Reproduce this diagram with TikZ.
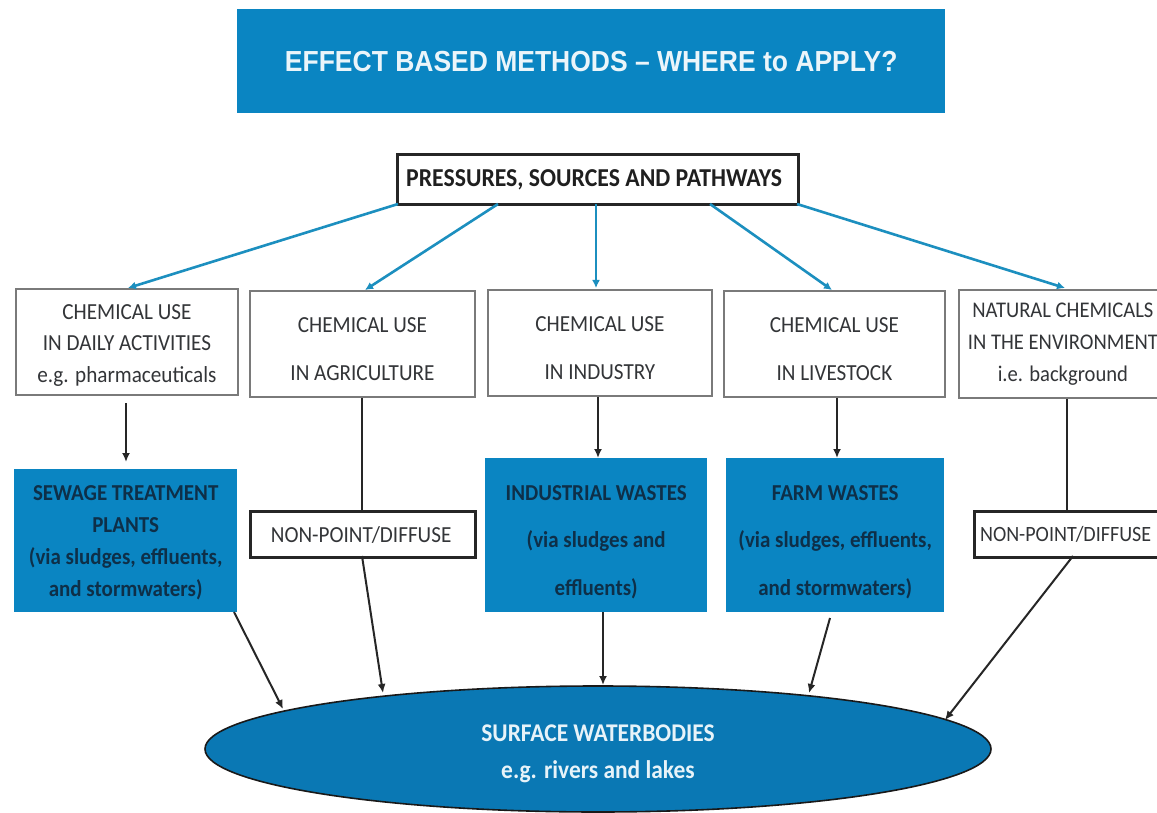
\documentclass[tikz,border=0pt]{standalone}
\usepackage{fontspec}
\setmainfont{Carlito}[FakeStretch=0.92]
\newfontfamily\titlefont{Liberation Sans}[FakeStretch=0.913]
\usetikzlibrary{shapes.geometric,arrows.meta}
\definecolor{bl}{HTML}{0A85C2}
\definecolor{el}{HTML}{0A78B4}
\definecolor{dk}{HTML}{0E2F48}
\definecolor{ln}{HTML}{1C8FBF}
\definecolor{gr}{HTML}{333538}
\newcommand{\tx}[3]{\fontsize{#1}{#2}\selectfont\raisebox{-#3pt}[0pt][0pt]}
\newcommand{\lns}[1]{\begin{tabular}{@{}c@{}}#1\end{tabular}}
\begin{document}
\begin{tikzpicture}[x=1pt,y=-1pt,
  box/.style={draw=black!52,line width=1.8pt,fill=white,align=center,inner sep=0pt,text=gr},
  thick box/.style={draw=black!85,line width=3.2pt,fill=white,align=center,inner sep=0pt,text=gr},
  blue box/.style={draw=none,fill=bl,align=center,inner sep=0pt,text=dk},
  bar/.style={-{Latex[length=8pt,width=8pt]},ln,line width=2.6pt},
  dn/.style={-{Latex[length=9pt,width=8pt]},black!85,line width=2pt}]
\useasboundingbox (0,0) rectangle (1157,813);
\fill[white] (0,0) rectangle (1157,813);
\newcommand{\bx}[7][box]{\node[#1,minimum width=#4-#2,minimum height=#5-#3,anchor=north west] (#6) at (#2,#3) {#7};}
\bx[blue box]{237}{9}{945}{113}{title}{\titlefont\bfseries\fontsize{29}{32}\selectfont\textcolor{white!92!bl}{EFFECT BASED METHODS – WHERE to APPLY?}}
\bx[thick box,text=black!88]{396}{153}{797}{203}{press}{\fontsize{25.8}{28}\selectfont\bfseries\hspace*{-8pt}PRESSURES, SOURCES AND PATHWAYS}
\bx{15}{288}{237}{394}{c1}{\tx{23}{31.5}{9}{\lns{CHEMICAL USE\\IN DAILY ACTIVITIES\\e.g. pharmaceuticals}}}
\bx{249}{290}{474}{396}{c2}{\tx{23}{48}{9}{\lns{CHEMICAL USE\\IN AGRICULTURE}}}
\bx{487}{289}{711}{395}{c3}{\tx{23}{48}{9}{\lns{CHEMICAL USE\\IN INDUSTRY}}}
\bx{723}{290}{944}{396}{c4}{\tx{23}{48}{9}{\lns{CHEMICAL USE\\IN LIVESTOCK}}}
\bx{958}{289}{1174}{397}{c5}{\tx{22.4}{32}{4}{\hspace*{-8pt}\lns{NATURAL CHEMICALS\\IN THE ENVIRONMENT\\i.e. background}}}
\bx[blue box]{14}{469}{237}{612}{w1}{\bfseries\tx{22.8}{32}{7}{\lns{SEWAGE TREATMENT\\PLANTS\\(via sludges, effluents,\\and stormwaters)}}}
\bx[blue box]{485}{458}{707}{612}{w3}{\bfseries\tx{22.8}{47.5}{8}{\lns{INDUSTRIAL WASTES\\(via sludges and\\effluents)}}}
\bx[blue box]{726}{458}{944}{612}{w4}{\bfseries\tx{22.8}{47.5}{8}{\lns{FARM WASTES\\(via sludges, effluents,\\and stormwaters)}}}
\bx[thick box]{249}{510}{474}{556}{n2}{\fontsize{23}{26}\selectfont\hspace*{-4pt}NON-POINT/DIFFUSE}
\bx[thick box]{973}{510}{1177}{556}{n5}{\fontsize{21.8}{26}\selectfont\hspace*{-22pt}NON-POINT/DIFFUSE}
\node[ellipse,draw=black!90,line width=1.6pt,fill=el,minimum width=786pt,minimum height=126pt,inner sep=0pt,align=center,text=white!90!bl] (lake) at (598,749) {\bfseries\tx{25.5}{37}{10}{\lns{SURFACE WATERBODIES\\e.g. rivers and lakes}}};
\coordinate (p1) at (398,204); \coordinate (t1) at (128,288);
\coordinate (p2) at (498,204); \coordinate (t2) at (365,290);
\coordinate (p3) at (596,204); \coordinate (t3) at (596,288);
\coordinate (p4) at (710,204); \coordinate (t4) at (832,290);
\coordinate (p5) at (797,204); \coordinate (t5) at (1065,288);
\foreach \i in {1,...,5} \draw[bar] (p\i) -- (t\i);
\coordinate (s1) at (126,403);
\coordinate (e1) at (126,462);
\draw[dn] (s1) -- (e1);
\draw[black!85,line width=2.4pt] (c2.south -| 362,0) -- (n2.north -| 362,0);
\draw[dn] (c3.south -| 598,0) -- (w3.north -| 598,0);
\draw[dn] (c4.south -| 837,0) -- (w4.north -| 837,0);
\draw[black!85,line width=2.4pt] (c5.south -| 1067,0) -- (n5.north -| 1067,0);
\coordinate (a1) at (234,612); \coordinate (b1) at (283,709);
\coordinate (a2) at (362,556); \coordinate (b2) at (383,693);
\coordinate (a3) at (603,612); \coordinate (b3) at (603,685);
\coordinate (a4) at (830,618); \coordinate (b4) at (809,693);
\coordinate (a5) at (1073,556); \coordinate (b5) at (945,720);
\foreach \i in {1,...,5} \draw[dn] (a\i) -- (b\i);
\end{tikzpicture}
\end{document}
